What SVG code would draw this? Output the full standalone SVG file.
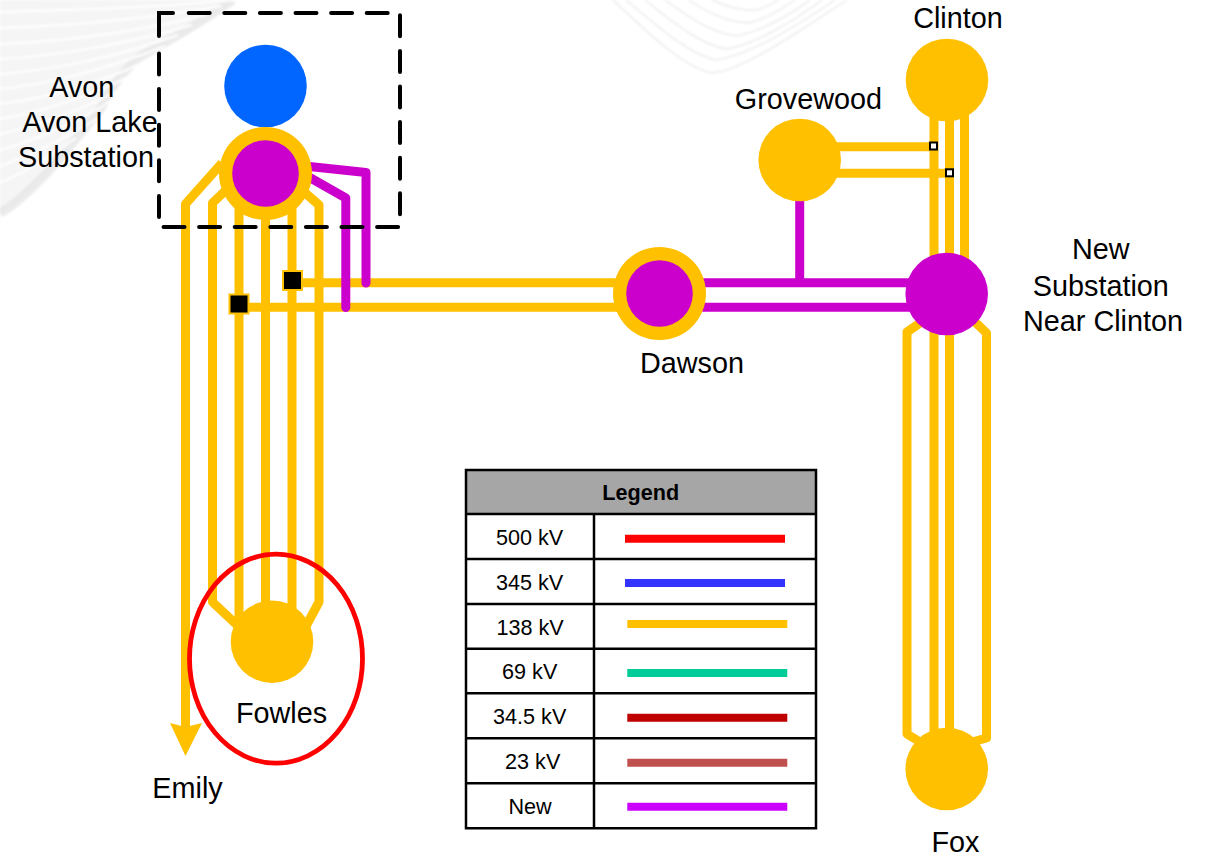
<svg xmlns="http://www.w3.org/2000/svg" width="1206" height="856" viewBox="0 0 1206 856">
<defs>
<filter id="soft" x="-10%" y="-10%" width="120%" height="120%"><feGaussianBlur stdDeviation="0.8"/></filter>
<filter id="softer" x="-20%" y="-20%" width="140%" height="140%"><feGaussianBlur stdDeviation="5"/></filter>
</defs>
<style>
text{font-family:"Liberation Sans",Arial,sans-serif;fill:#000}
.lbl{font-size:28.800px;text-anchor:middle}
.lg{font-size:21.600px;text-anchor:middle}
.y{fill:none;stroke:#FFC000;stroke-width:9;stroke-linejoin:round}
.p{fill:none;stroke:#CC00CC;stroke-width:9;stroke-linejoin:round;stroke-linecap:round}
.py{fill:#FFC000}
.pp{fill:#CC00CC}
.grid{fill:none;stroke:#000;stroke-width:2.500}
.sw{stroke-width:8;fill:none}
.bg1{fill:none;stroke:#fff;stroke-width:2}
.bg2{fill:none;stroke:#f0f0f0;stroke-width:2}
</style>
<rect width="1206" height="856" fill="#fff"/>
<g id="background">
<g filter="url(#soft)">
<path d="M0 0H233C190 30 165 42 140 57C118 75 108 95 100 110C80 135 62 155 47 173C30 190 15 205 0 213Z" fill="#f5f5f5"/>
<path d="M233 0C190 30 165 42 140 57C118 75 108 95 100 110C80 135 62 155 47 173C30 190 15 205 0 213" fill="none" stroke="#e4e4e4" stroke-width="9" opacity=".75"/>
<path class="bg1" d="M0 12C70 10 150 8 235 0"/>
<path class="bg1" d="M0 28C70 26 150 18 222 6"/>
<path class="bg1" d="M0 44C70 41 140 31 206 15"/>
<path class="bg1" d="M0 59C60 56 130 43 192 25"/>
<path class="bg1" d="M0 74C55 70 120 56 178 35"/>
<path class="bg1" d="M0 89C50 84 110 68 165 46"/>
<path class="bg1" d="M0 104C50 98 110 80 152 58"/>
<path class="bg1" d="M0 119C45 112 100 92 138 72"/>
<path class="bg1" d="M0 134C40 126 90 107 126 86"/>
<path class="bg1" d="M0 150C35 140 80 122 112 100"/>
<path class="bg1" d="M0 166C30 156 65 138 98 118"/>
<path class="bg1" d="M0 183C25 172 52 156 76 138"/>
<path class="bg2" d="M613 0C650 35 685 68 712 73C745 70 800 30 847 0"/>
<path class="bg2" d="M626 0C660 28 690 55 716 60C750 55 800 24 835 0"/>
<path class="bg2" d="M645 0C675 24 700 44 726 49C755 45 795 20 822 0"/>
<path class="bg2" d="M665 0C690 18 712 33 736 36C760 32 790 15 810 0"/>
<path class="bg2" d="M688 0C708 12 726 22 748 23C765 20 782 9 795 0"/>
<path class="bg2" d="M712 0C725 6 740 11 756 10C765 8 772 4 778 0"/>
</g>
</g>
<g id="connectors">
<path class="y" d="M222 163L185.500 204V732"/>
<path class="y" d="M226 190L212.500 203V602L238 626"/>
<path class="y" d="M239 190V625"/>
<path class="y" d="M265.500 190V625"/>
<path class="y" d="M292 190V625"/>
<path class="y" d="M303 191L319 205V602L305 628"/>
<path class="y" d="M292 282.700H640"/>
<path class="y" d="M239 307.300H640"/>
<path class="y" d="M800 146.700H934"/>
<path class="y" d="M800 173.300H949.500"/>
<path class="y" d="M934 100V280"/>
<path class="y" d="M949.500 100V280"/>
<path class="y" d="M964.500 100V280"/>
<path class="y" d="M920 323L907 332V734L925 745"/>
<path class="y" d="M975 322L986.500 333V738L965 744"/>
<path class="y" d="M934 320V745"/>
<path class="y" d="M949.500 320V745"/>
<path class="p" d="M300 165.500L366 172.500V283"/>
<path class="p" d="M300 172L345.800 198V307.500"/>
<path class="p" d="M680 282.700H930"/>
<path class="p" d="M680 307.300H930"/>
<path class="p" d="M799.700 190V282"/>
<path class="py" d="M170 723L185.500 727L202 723L185.500 756Z"/>
</g>
<g id="avon-box" fill="none" stroke="#000" stroke-width="4" stroke-linecap="round">
<path stroke-dasharray="21 14.600" d="M188.700 13H400V227H159V52"/>
<path d="M159 36V13H173"/>
</g>
<g id="avon">
<circle cx="265.500" cy="86" r="41.300" fill="#0066FF"/>
</g>
<g id="avon-lake">
<circle class="py" cx="265.500" cy="173.500" r="46.500"/>
<circle class="pp" cx="265.500" cy="173.500" r="33.300"/>
</g>
<g id="breaker-1"><rect x="283" y="271" width="19" height="19" fill="#000" stroke="#FFC000" stroke-width="2"/></g>
<g id="breaker-2"><rect x="229.500" y="294.500" width="19" height="19" fill="#000" stroke="#FFC000" stroke-width="2"/></g>
<g id="tap-1"><rect x="930" y="142.500" width="7" height="7" fill="#fff" stroke="#000" stroke-width="2"/></g>
<g id="tap-2"><rect x="946" y="169.300" width="7" height="7" fill="#fff" stroke="#000" stroke-width="2"/></g>
<g id="dawson">
<circle class="py" cx="659.500" cy="293.500" r="46.500"/>
<circle class="pp" cx="659.500" cy="293.500" r="33.300"/>
</g>
<g id="grovewood"><circle class="py" cx="799.700" cy="160" r="41.300"/></g>
<g id="clinton"><circle class="py" cx="947" cy="80" r="41.300"/></g>
<g id="new-substation"><circle class="pp" cx="946.700" cy="294" r="41.300"/></g>
<g id="fox"><circle class="py" cx="946.700" cy="769" r="41.300"/></g>
<g id="fowles">
<circle class="py" cx="272" cy="641.700" r="41.300"/>
<ellipse cx="276" cy="658.700" rx="86.500" ry="104.500" fill="none" stroke="#FF0000" stroke-width="4.800"/>
</g>
<g id="labels">
<text class="lbl" x="81.700" y="96.700">Avon</text>
<text class="lbl" x="90" y="131.700">Avon Lake</text>
<text class="lbl" x="86" y="167">Substation</text>
<text class="lbl" x="958" y="27.500">Clinton</text>
<text class="lbl" x="808.500" y="108.700">Grovewood</text>
<text class="lbl" x="692" y="372.500">Dawson</text>
<text class="lbl" x="1100.800" y="259.300">New</text>
<text class="lbl" x="1100.800" y="296">Substation</text>
<text class="lbl" x="1103" y="331">Near Clinton</text>
<text class="lbl" x="281.500" y="723.300">Fowles</text>
<text class="lbl" x="187.500" y="797.700">Emily</text>
<text class="lbl" x="955.500" y="851.500">Fox</text>
</g>
<g id="legend">
<rect x="466" y="470" width="350" height="44" fill="#A6A6A6"/>
<path class="grid" d="M466 470H816V828.300H466ZM466 514H816M466 559H816M466 604H816M466 648.700H816M466 693.300H816M466 738.300H816M466 783.300H816M594 514V828.300"/>
<text class="lg" x="640.700" y="500" font-weight="bold">Legend</text>
<text class="lg" x="529.500" y="545">500 kV</text>
<text class="lg" x="529.500" y="590">345 kV</text>
<text class="lg" x="530" y="635">138 kV</text>
<text class="lg" x="529.700" y="679">69 kV</text>
<text class="lg" x="529.700" y="724">34.5 kV</text>
<text class="lg" x="532.700" y="769">23 kV</text>
<text class="lg" x="530" y="814">New</text>
<path class="sw" stroke="#FF0000" d="M625 538.700H785"/>
<path class="sw" stroke="#3333FF" d="M625 583H785"/>
<path class="sw" stroke="#FFC000" d="M627.300 624H787.300"/>
<path class="sw" stroke="#00CC99" d="M627.300 673H787.300"/>
<path class="sw" stroke="#C00000" d="M627.300 717.700H787.300"/>
<path class="sw" stroke="#C0504D" d="M627.300 762.700H787.300"/>
<path class="sw" stroke="#CC00FF" d="M627.300 806.700H787.300"/>
</g>
</svg>
